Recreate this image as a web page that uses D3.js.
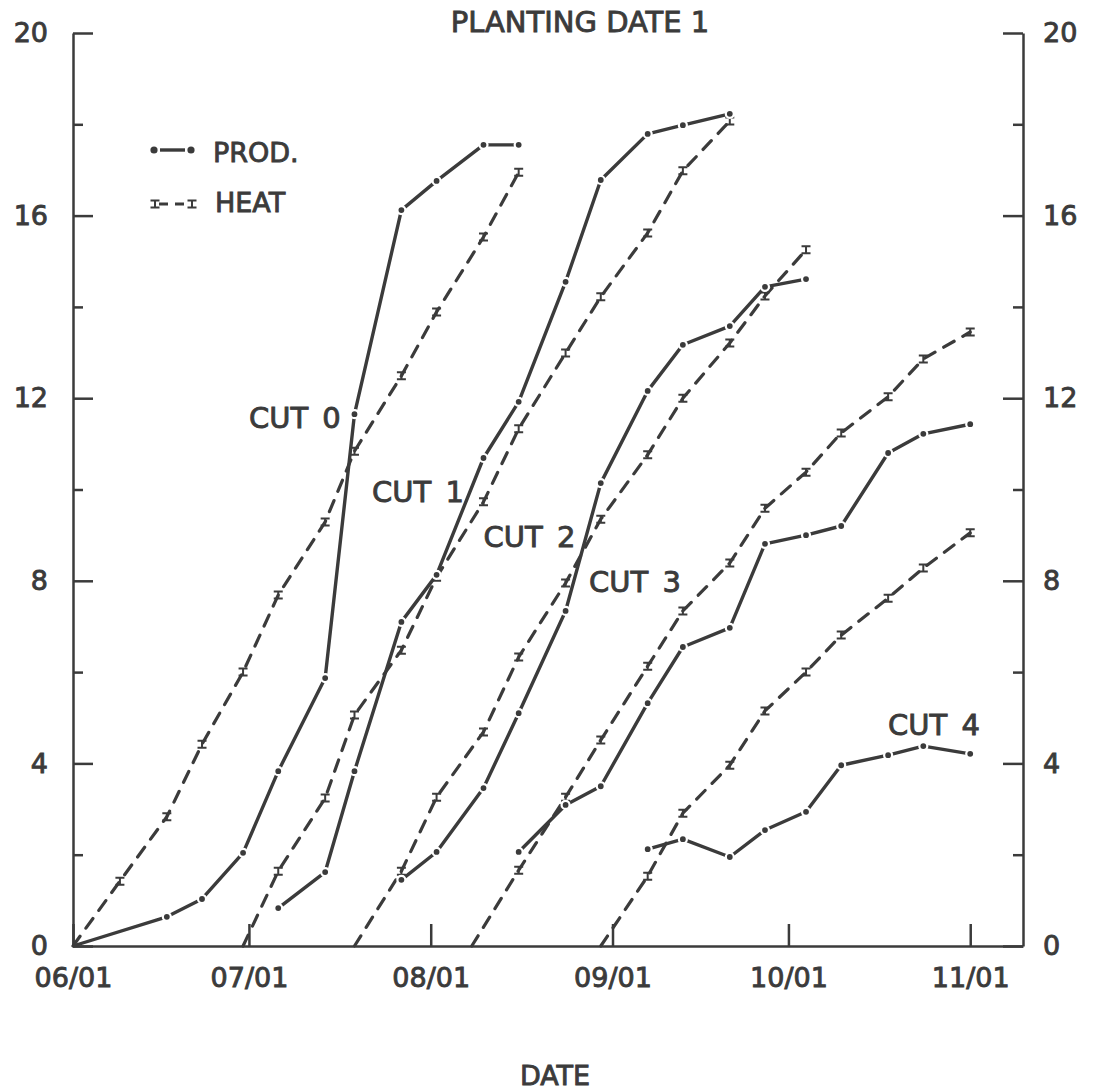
<!DOCTYPE html>
<meta charset="utf-8" />
<script src="https://d3js.org/d3.v7.min.js"></script>
<body style="margin: 0; background-color: #ffffff">
  <div id="chart"></div>
  <script>
    // sample dates (month/day) and values
    var cut0ProdDates = ["06/01", "06/17", "06/23", "06/30", "07/06", "07/14", "07/19", "07/27", "08/02", "08/10", "08/16"];
    var cut0Prod = [0, 0.64, 1.03, 2.04, 3.83, 5.87, 11.65, 16.12, 16.76, 17.55, 17.55];
    var cut0HeatDates = ["06/01", "06/09", "06/17", "06/23", "06/30", "07/06", "07/14", "07/19", "07/27", "08/02", "08/10", "08/16"];
    var cut0Heat = [0, 1.42, 2.83, 4.42, 6.0, 7.69, 9.29, 10.84, 12.49, 13.89, 15.53, 16.95];

    var cut1ProdDates = ["07/06", "07/14", "07/19", "07/27", "08/02", "08/10", "08/16", "08/24", "08/30", "09/07", "09/13", "09/21"];
    var cut1Prod = [0.83, 1.62, 3.83, 7.1, 8.13, 10.69, 11.92, 14.55, 16.78, 17.79, 17.98, 18.23];
    var cut1HeatDates = ["06/30", "07/06", "07/14", "07/19", "07/27", "08/02", "08/10", "08/16", "08/24", "08/30", "09/07", "09/13", "09/21"];
    var cut1Heat = [0, 1.64, 3.24, 5.06, 6.48, 8.08, 9.73, 11.33, 12.99, 14.22, 15.62, 16.98, 18.07];

    var cut2ProdDates = ["07/27", "08/02", "08/10", "08/16", "08/24", "08/30", "09/07", "09/13", "09/21", "09/27", "10/04"];
    var cut2Prod = [1.45, 2.06, 3.46, 5.1, 7.34, 10.14, 12.16, 13.17, 13.58, 14.44, 14.61];
    var cut2HeatDates = ["07/19", "07/27", "08/02", "08/10", "08/16", "08/24", "08/30", "09/07", "09/13", "09/21", "09/27", "10/04"];
    var cut2Heat = [0, 1.64, 3.26, 4.69, 6.33, 7.95, 9.35, 10.76, 12.0, 13.21, 14.24, 15.25];

    var cut3ProdDates = ["08/16", "08/24", "08/30", "09/07", "09/13", "09/21", "09/27", "10/04", "10/10", "10/18", "10/24", "11/01"];
    var cut3Prod = [2.06, 3.09, 3.5, 5.32, 6.55, 6.97, 8.81, 9.0, 9.2, 10.8, 11.22, 11.43];
    var cut3HeatDates = ["08/08", "08/16", "08/24", "08/30", "09/07", "09/13", "09/21", "09/27", "10/04", "10/10", "10/18", "10/24", "11/01"];
    var cut3Heat = [0, 1.66, 3.26, 4.51, 6.13, 7.34, 8.39, 9.59, 10.38, 11.24, 12.03, 12.86, 13.45];

    var cut4ProdDates = ["09/07", "09/13", "09/21", "09/27", "10/04", "10/10", "10/18", "10/24", "11/01"];
    var cut4Prod = [2.12, 2.34, 1.95, 2.54, 2.94, 3.96, 4.18, 4.38, 4.21];
    var cut4HeatDates = ["08/30", "09/07", "09/13", "09/21", "09/27", "10/04", "10/10", "10/18", "10/24", "11/01"];
    var cut4Heat = [0, 1.53, 2.91, 3.96, 5.15, 6.0, 6.81, 7.62, 8.28, 9.05];

    var monthTicks = ["06/01", "07/01", "08/01", "09/01", "10/01", "11/01"];
    var yMajor = [0, 4, 8, 12, 16, 20];
    var yMinor = [2, 6, 10, 14, 18];

    // label text and the point (date, value) where its left baseline sits
    var cutNames = ["CUT 0", "CUT 1", "CUT 2", "CUT 3", "CUT 4"];
    var cutLabelDates = ["07/01", "07/22", "08/10", "08/28", "10/18"];
    var cutLabelValues = [11.35, 9.73, 8.74, 7.75, 4.62];

    var ink = "#3b3b3b";
    var font = "'DejaVu Sans', sans-serif";
    var parse = d3.timeParse("%m/%d");

    var margin = { top: 33, left: 73 },
      width = 950,
      height = 913;

    var svg = d3
      .select("#chart")
      .append("svg")
      .attr("width", 1095)
      .attr("height", 1092)
      .style("font-family", font);

    var g = svg
      .append("g")
      .attr("transform", "translate(" + margin.left + "," + margin.top + ")");

    var x = d3
      .scaleTime()
      .domain([parse("06/01"), parse("11/10")])
      .range([0, width]);
    var y = d3.scaleLinear().domain([0, 20]).range([height, 0]);

    // lettering in the scan is heavier than a plain regular weight
    function ink_text(sel, size) {
      sel
        .attr("fill", ink)
        .attr("stroke", ink)
        .attr("stroke-width", 0.9)
        .style("font-family", font)
        .style("font-size", size + "px");
    }

    function styleAxis(sel) {
      sel.selectAll("path, line").attr("stroke", ink).attr("stroke-width", 2.5);
      sel.selectAll("text").call(ink_text, 27);
    }

    // left axis, ticks pointing inward
    g.append("g")
      .call(d3.axisLeft(y).tickValues(yMajor).tickSize(-20).tickSizeOuter(0).tickPadding(25))
      .call(styleAxis);
    g.append("g")
      .call(d3.axisLeft(y).tickValues(yMinor).tickSize(-10).tickSizeOuter(0).tickFormat(""))
      .call(styleAxis)
      .select(".domain")
      .remove();

    // right axis
    g.append("g")
      .attr("transform", "translate(" + width + ",0)")
      .call(d3.axisRight(y).tickValues(yMajor).tickSize(-20).tickSizeOuter(0).tickPadding(20))
      .call(styleAxis);
    g.append("g")
      .attr("transform", "translate(" + width + ",0)")
      .call(d3.axisRight(y).tickValues(yMinor).tickSize(-10).tickSizeOuter(0).tickFormat(""))
      .call(styleAxis)
      .select(".domain")
      .remove();

    // bottom axis
    g.append("g")
      .attr("transform", "translate(0," + height + ")")
      .call(
        d3
          .axisBottom(x)
          .tickValues(monthTicks.map(parse))
          .tickFormat(d3.timeFormat("%m/%d"))
          .tickSize(-22)
          .tickSizeOuter(0)
          .tickPadding(22)
      )
      .call(styleAxis);

    var line = d3
      .line()
      .x(function (d) {
        return x(d.date);
      })
      .y(function (d) {
        return y(d.value);
      });

    function pts(dates, values) {
      return dates.map(function (d, i) {
        return { date: parse(d), value: values[i] };
      });
    }

    var prodSeries = [
      pts(cut0ProdDates, cut0Prod),
      pts(cut1ProdDates, cut1Prod),
      pts(cut2ProdDates, cut2Prod),
      pts(cut3ProdDates, cut3Prod),
      pts(cut4ProdDates, cut4Prod)
    ];
    var heatSeries = [
      pts(cut0HeatDates, cut0Heat),
      pts(cut1HeatDates, cut1Heat),
      pts(cut2HeatDates, cut2Heat),
      pts(cut3HeatDates, cut3Heat),
      pts(cut4HeatDates, cut4Heat)
    ];

    var ibar = "M-4.5,-3.5H4.5M-4.5,3.5H4.5M0,-3.5V3.5";

    heatSeries.forEach(function (s) {
      g.append("path")
        .datum(s)
        .attr("d", line)
        .attr("fill", "none")
        .attr("stroke", ink)
        .attr("stroke-width", 3.2)
        .attr("stroke-dasharray", "12,10")
        .attr("stroke-linecap", "round");
      g.selectAll(null)
        .data(s.filter(function (d) { return d.value > 0; }))
        .enter()
        .append("path")
        .attr("d", ibar)
        .attr("transform", function (d) {
          return "translate(" + x(d.date) + "," + y(d.value) + ")";
        })
        .attr("fill", "none")
        .attr("stroke", ink)
        .attr("stroke-width", 2);
    });

    prodSeries.forEach(function (s) {
      g.append("path")
        .datum(s)
        .attr("d", line)
        .attr("fill", "none")
        .attr("stroke", ink)
        .attr("stroke-width", 3.4)
        .attr("stroke-linejoin", "round");
      g.selectAll(null)
        .data(s.filter(function (d) { return d.value > 0; }))
        .enter()
        .append("circle")
        .attr("cx", function (d) { return x(d.date); })
        .attr("cy", function (d) { return y(d.value); })
        .attr("r", 4)
        .attr("fill", ink)
        .attr("stroke", "#ffffff")
        .attr("stroke-width", 2.2);
    });

    // cut labels
    g.selectAll(null)
      .data(cutNames)
      .enter()
      .append("text")
      .attr("x", function (d, i) { return x(parse(cutLabelDates[i])); })
      .attr("y", function (d, i) { return y(cutLabelValues[i]); })
      .call(ink_text, 29)
      .style("word-spacing", "5px")
      .text(function (d) { return d; });

    // title and axis title
    svg.append("text")
      .attr("x", 580)
      .attr("y", 32)
      .attr("text-anchor", "middle")
      .call(ink_text, 29)
      .text("PLANTING DATE 1");

    svg.append("text")
      .attr("x", 555)
      .attr("y", 1085)
      .attr("text-anchor", "middle")
      .call(ink_text, 27)
      .text("DATE");

    // legend
    var leg = svg.append("g");
    leg.append("line")
      .attr("x1", 160).attr("x2", 185).attr("y1", 150).attr("y2", 150)
      .attr("stroke", ink).attr("stroke-width", 3.4);
    leg.selectAll(null)
      .data([154, 191])
      .enter()
      .append("circle")
      .attr("cx", function (d) { return d; })
      .attr("cy", 150)
      .attr("r", 3.6)
      .attr("fill", ink);
    leg.append("text")
      .attr("x", 213).attr("y", 162)
      .call(ink_text, 27)
      .text("PROD.");

    leg.append("line")
      .attr("x1", 159).attr("x2", 188).attr("y1", 204).attr("y2", 204)
      .attr("stroke", ink).attr("stroke-width", 3.2)
      .attr("stroke-dasharray", "9,7");
    leg.selectAll(null)
      .data([155, 192])
      .enter()
      .append("path")
      .attr("d", ibar)
      .attr("transform", function (d) { return "translate(" + d + ",204)"; })
      .attr("fill", "none")
      .attr("stroke", ink)
      .attr("stroke-width", 2);
    leg.append("text")
      .attr("x", 215).attr("y", 212)
      .call(ink_text, 27)
      .text("HEAT");
  </script>
</body>
